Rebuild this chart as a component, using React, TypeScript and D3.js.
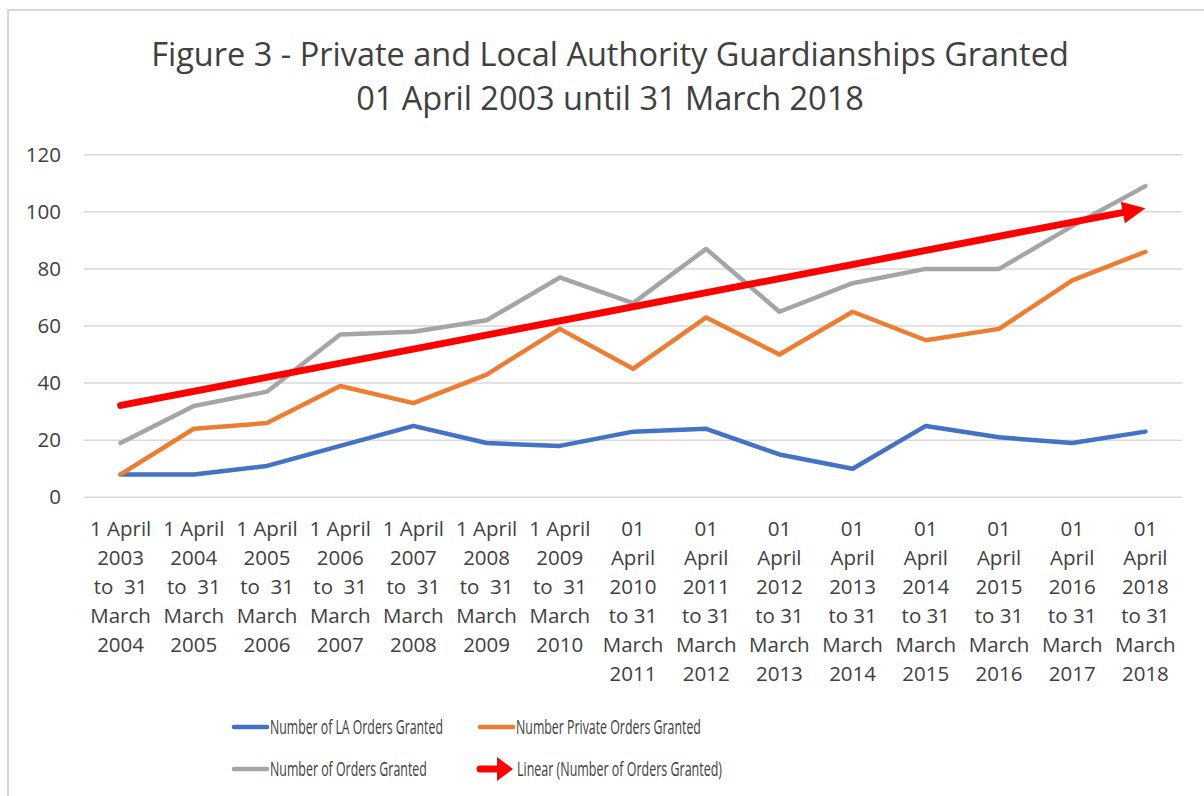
import React, { useLayoutEffect, useRef, useState } from 'react';
import * as d3 from 'd3';

const periods = [
  ['1 April', '2003', 'to  31', 'March', '2004'],
  ['1 April', '2004', 'to  31', 'March', '2005'],
  ['1 April', '2005', 'to  31', 'March', '2006'],
  ['1 April', '2006', 'to  31', 'March', '2007'],
  ['1 April', '2007', 'to  31', 'March', '2008'],
  ['1 April', '2008', 'to  31', 'March', '2009'],
  ['1 April', '2009', 'to  31', 'March', '2010'],
  ['01', 'April', '2010', 'to 31', 'March', '2011'],
  ['01', 'April', '2011', 'to 31', 'March', '2012'],
  ['01', 'April', '2012', 'to 31', 'March', '2013'],
  ['01', 'April', '2013', 'to 31', 'March', '2014'],
  ['01', 'April', '2014', 'to 31', 'March', '2015'],
  ['01', 'April', '2015', 'to 31', 'March', '2016'],
  ['01', 'April', '2016', 'to 31', 'March', '2017'],
  ['01', 'April', '2018', 'to 31', 'March', '2018'],
];

const laOrders = [8, 8, 11, 18, 25, 19, 18, 23, 24, 15, 10, 25, 21, 19, 23];
const privateOrders = [8, 24, 26, 39, 33, 43, 59, 45, 63, 50, 65, 55, 59, 76, 86];
const totalOrders = [19, 32, 37, 57, 58, 62, 77, 68, 87, 65, 75, 80, 80, 95, 109];
const yTicks = [0, 20, 40, 60, 80, 100, 120];

const W = 1204;
const H = 796;
const font = '"Open Sans", "Noto Sans", sans-serif';
const textCol = '#404040';

const legend = [
  { label: 'Number of LA Orders Granted', color: '#4472C4', x: 232, y: 727, w: 173 },
  { label: 'Number Private Orders Granted', color: '#ED7D31', x: 478, y: 727, w: 185 },
  { label: 'Number of Orders Granted', color: '#A5A5A5', x: 232, y: 769, w: 157 },
  { label: 'Linear (Number of Orders Granted)', color: '#FF0000', x: 478, y: 769, w: 205, arrow: true },
];

export default function App() {
  const legendRefs = useRef<(SVGTextElement | null)[]>([]);
  const [sx, setSx] = useState<number[]>(legend.map(() => 0.78));

  useLayoutEffect(() => {
    // squeeze legend text horizontally to the reference's narrow font
    setSx(legend.map((d, i) => {
      const el = legendRefs.current[i];
      const len = el ? el.getComputedTextLength() : 0;
      return len > 0 ? d.w / len : 0.78;
    }));
  }, []);

  const idx = periods.map((_, i) => i);
  // plot area
  const x = d3.scaleBand<number>().domain(idx).range([84, 1182]);
  const y = d3.scaleLinear().domain([0, 120]).range([497.3, 154.7]);
  const cx = (i: number) => (x(i) as number) + x.bandwidth() / 2;

  const line = d3.line<number>()
    .x((_, i) => cx(i))
    .y(d => y(d));

  // least squares trend of the total series
  const n = totalOrders.length;
  const mx = d3.mean(idx) as number;
  const my = d3.mean(totalOrders) as number;
  const slope = d3.sum(idx, i => (i - mx) * (totalOrders[i] - my)) / d3.sum(idx, i => (i - mx) ** 2);
  const t0 = my - slope * mx;
  const x1 = cx(0), y1 = y(t0);
  const x2 = cx(n - 1), y2 = y(t0 + slope * (n - 1));
  const ang = Math.atan2(y2 - y1, x2 - x1);
  const headLen = 23, headHalf = 11;
  const bx = x2 - headLen * Math.cos(ang), by = y2 - headLen * Math.sin(ang);
  const px = -Math.sin(ang), py = Math.cos(ang);
  const head = `${x2},${y2} ${bx + px * headHalf},${by + py * headHalf} ${bx - px * headHalf},${by - py * headHalf}`;

  const series = [
    { data: laOrders, color: '#4472C4' },
    { data: privateOrders, color: '#ED7D31' },
    { data: totalOrders, color: '#A5A5A5' },
  ];

  return (
    <svg width={W} height={H} style={{ position: 'absolute', left: 0, top: 0 }} fontFamily={font}>
      <rect x={0} y={0} width={W} height={H} fill="#fff" />
      <rect x={8} y={10} width={W + 50} height={H + 50} fill="none" stroke="#d9d9d9" strokeWidth={2} />

      <text x={610} y={66} textAnchor="middle" fontSize={32.5} fill={textCol}>
        Figure 3 - Private and Local Authority Guardianships Granted
      </text>
      <text x={610} y={110} textAnchor="middle" fontSize={32.5} fill={textCol}>
        01 April 2003 until 31 March 2018
      </text>

      {/* gridlines + y ticks */}
      {yTicks.map(t => (
        <g key={t}>
          <line x1={84} x2={1182} y1={y(t)} y2={y(t)} stroke="#d9d9d9" strokeWidth={1.5} />
          <text x={61} y={y(t) + 7} textAnchor="end" fontSize={20.5} fill={textCol}>{t}</text>
        </g>
      ))}

      {/* x tick labels */}
      {periods.map((lines, i) => (
        <text key={i} textAnchor="middle" fontSize={20.5} fill={textCol} xmlSpace="preserve" style={{ whiteSpace: 'pre' }}>
          {lines.map((l, j) => (
            <tspan key={j} x={cx(i)} y={536 + j * 29}>{l}</tspan>
          ))}
        </text>
      ))}

      {series.map((s, k) => (
        <path key={k} d={line(s.data) as string} fill="none" stroke={s.color} strokeWidth={4.5}
          strokeLinecap="round" strokeLinejoin="round" />
      ))}

      {/* linear trend */}
      <line x1={x1} y1={y1} x2={bx + 2 * Math.cos(ang)} y2={by + 2 * Math.sin(ang)} stroke="#FF0000"
        strokeWidth={7} strokeLinecap="round" />
      <polygon points={head} fill="#FF0000" />

      {/* legend */}
      {legend.map((d, i) => (
        <g key={i}>
          {d.arrow ? (
            <g>
              <line x1={d.x + 2} x2={d.x + 20} y1={d.y} y2={d.y} stroke={d.color} strokeWidth={7} strokeLinecap="round" />
              <polygon points={`${d.x + 35},${d.y} ${d.x + 19},${d.y - 12} ${d.x + 19},${d.y + 12}`} fill={d.color} />
            </g>
          ) : (
            <line x1={d.x + 2} x2={d.x + 35} y1={d.y} y2={d.y} stroke={d.color} strokeWidth={4.5} strokeLinecap="round" />
          )}
          <text ref={el => { legendRefs.current[i] = el; }}
            transform={`translate(${d.arrow ? d.x + 39 : d.x + 38},${d.y + 7}) scale(${sx[i]},1)`}
            fontSize={20} fill={textCol}>{d.label}</text>
        </g>
      ))}
    </svg>
  );
}
